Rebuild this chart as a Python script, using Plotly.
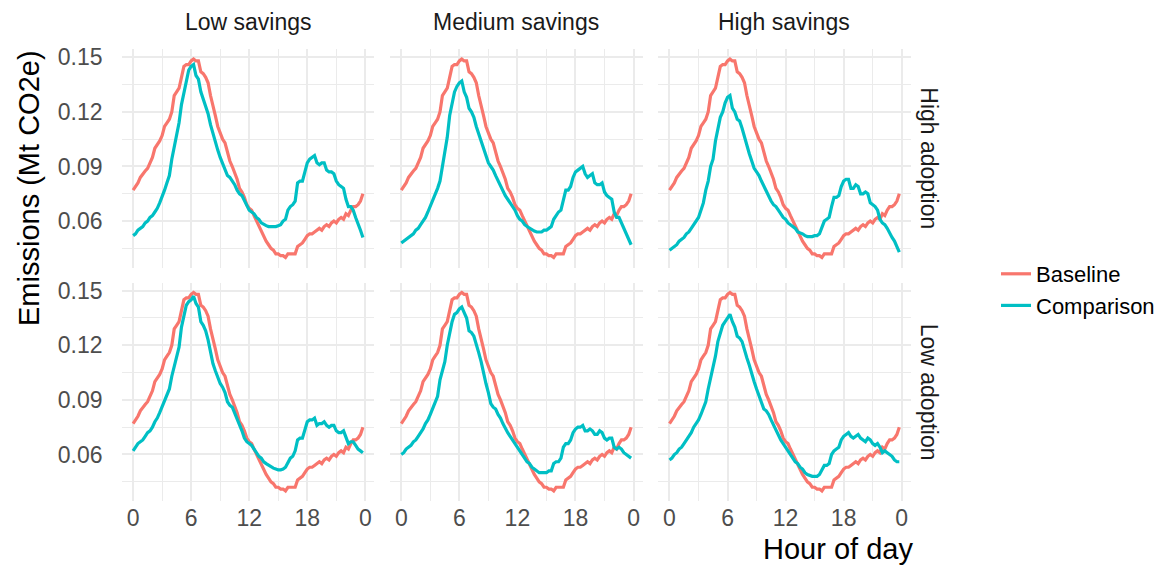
import numpy as np
import plotly.graph_objects as go

# ---------------- data (15-minute resolution, hour 0 .. 23.75) ----------------
hours = np.arange(96) * 0.25

baseline = [
    0.077, 0.079, 0.081, 0.084, 0.086, 0.0875, 0.089, 0.092, 0.095, 0.100, 0.102, 0.104,
    0.107, 0.112, 0.114, 0.116, 0.120, 0.129, 0.131, 0.133, 0.139, 0.145, 0.146, 0.146,
    0.148, 0.149, 0.148, 0.148, 0.142, 0.141, 0.139, 0.136, 0.129, 0.124, 0.118, 0.112,
    0.108, 0.105, 0.103, 0.098, 0.093, 0.090, 0.087, 0.083, 0.078, 0.076, 0.073, 0.069,
    0.067, 0.066, 0.063, 0.060, 0.058, 0.055, 0.052, 0.049, 0.047, 0.045, 0.044, 0.042,
    0.042, 0.041, 0.041, 0.040, 0.042, 0.042, 0.042, 0.042, 0.046, 0.047, 0.048, 0.050,
    0.052, 0.053, 0.053, 0.054, 0.055, 0.056, 0.055, 0.057, 0.058, 0.057, 0.059, 0.060,
    0.059, 0.061, 0.062, 0.061, 0.064, 0.063, 0.066, 0.068, 0.068, 0.069, 0.071, 0.075,
]

comp_high_adoption_low_savings = [
    0.052, 0.053, 0.055, 0.056, 0.057, 0.059, 0.060, 0.062, 0.063, 0.065, 0.067, 0.070,
    0.073, 0.077, 0.081, 0.085, 0.094, 0.101, 0.106, 0.114, 0.124, 0.131, 0.138, 0.143,
    0.145, 0.146, 0.140, 0.138, 0.131, 0.127, 0.123, 0.119, 0.113, 0.108, 0.104, 0.099,
    0.095, 0.092, 0.089, 0.085, 0.084, 0.082, 0.080, 0.077, 0.075, 0.074, 0.071, 0.068,
    0.066, 0.065, 0.064, 0.062, 0.061, 0.059, 0.058, 0.0575, 0.057, 0.057, 0.057, 0.057,
    0.0575, 0.058, 0.060, 0.061, 0.066, 0.068, 0.069, 0.071, 0.081, 0.082, 0.082, 0.088,
    0.092, 0.094, 0.095, 0.096, 0.092, 0.091, 0.092, 0.092, 0.088, 0.087, 0.087, 0.086,
    0.082, 0.080, 0.079, 0.078, 0.072, 0.068, 0.068, 0.066, 0.062, 0.059, 0.055, 0.051,
]

comp_high_adoption_medium_savings = [
    0.048, 0.049, 0.050, 0.051, 0.052, 0.053, 0.055, 0.056, 0.058, 0.060, 0.062, 0.065,
    0.068, 0.071, 0.074, 0.078, 0.082, 0.090, 0.098, 0.106, 0.118, 0.125, 0.131, 0.134,
    0.136, 0.137, 0.131, 0.128, 0.122, 0.120, 0.117, 0.112, 0.108, 0.104, 0.099, 0.095,
    0.092, 0.090, 0.088, 0.085, 0.082, 0.080, 0.077, 0.074, 0.072, 0.070, 0.068, 0.066,
    0.063, 0.061, 0.060, 0.058, 0.057, 0.056, 0.055, 0.0545, 0.054, 0.054, 0.054, 0.055,
    0.055, 0.056, 0.057, 0.061, 0.063, 0.065, 0.066, 0.071, 0.077, 0.077, 0.079, 0.084,
    0.087, 0.088, 0.089, 0.090, 0.086, 0.084, 0.085, 0.086, 0.081, 0.080, 0.080, 0.081,
    0.076, 0.074, 0.073, 0.072, 0.065, 0.062, 0.062, 0.059, 0.056, 0.053, 0.050, 0.047,
]

comp_high_adoption_high_savings = [
    0.044, 0.045, 0.046, 0.047, 0.049, 0.050, 0.051, 0.053, 0.054, 0.056, 0.058, 0.060,
    0.062, 0.066, 0.070, 0.077, 0.082, 0.090, 0.094, 0.104, 0.111, 0.117, 0.120, 0.125,
    0.128, 0.129, 0.122, 0.120, 0.116, 0.115, 0.111, 0.106, 0.101, 0.097, 0.093, 0.089,
    0.087, 0.085, 0.082, 0.079, 0.076, 0.073, 0.071, 0.069, 0.068, 0.066, 0.064, 0.062,
    0.061, 0.059, 0.058, 0.057, 0.056, 0.054, 0.0535, 0.053, 0.052, 0.0515, 0.0515, 0.0515,
    0.052, 0.052, 0.053, 0.056, 0.060, 0.061, 0.062, 0.068, 0.073, 0.073, 0.074, 0.079,
    0.082, 0.083, 0.083, 0.078, 0.078, 0.080, 0.079, 0.075, 0.075, 0.076, 0.075, 0.070,
    0.069, 0.068, 0.066, 0.061, 0.059, 0.058, 0.056, 0.053, 0.051, 0.049, 0.046, 0.043,
]

comp_low_adoption_low_savings = [
    0.062, 0.064, 0.066, 0.067, 0.068, 0.070, 0.072, 0.073, 0.075, 0.078, 0.080, 0.083,
    0.086, 0.089, 0.092, 0.096, 0.103, 0.109, 0.114, 0.119, 0.130, 0.137, 0.142, 0.144,
    0.145, 0.147, 0.143, 0.141, 0.133, 0.131, 0.128, 0.123, 0.116, 0.110, 0.106, 0.102,
    0.099, 0.097, 0.094, 0.089, 0.087, 0.086, 0.083, 0.079, 0.076, 0.073, 0.069, 0.067,
    0.066, 0.065, 0.063, 0.061, 0.059, 0.058, 0.056, 0.055, 0.054, 0.053, 0.0525, 0.052,
    0.0515, 0.0515, 0.052, 0.053, 0.056, 0.058, 0.059, 0.062, 0.068, 0.069, 0.069, 0.074,
    0.078, 0.079, 0.079, 0.080, 0.076, 0.077, 0.077, 0.078, 0.076, 0.075, 0.076, 0.076,
    0.073, 0.072, 0.072, 0.073, 0.069, 0.066, 0.067, 0.067, 0.065, 0.063, 0.062, 0.061,
]

comp_low_adoption_medium_savings = [
    0.060, 0.061, 0.063, 0.064, 0.065, 0.067, 0.068, 0.070, 0.072, 0.074, 0.077, 0.079,
    0.082, 0.085, 0.088, 0.092, 0.101, 0.106, 0.111, 0.120, 0.127, 0.133, 0.137, 0.138,
    0.140, 0.141, 0.138, 0.135, 0.128, 0.127, 0.125, 0.121, 0.116, 0.111, 0.104, 0.099,
    0.094, 0.088, 0.086, 0.085, 0.082, 0.080, 0.077, 0.074, 0.072, 0.070, 0.068, 0.066,
    0.064, 0.062, 0.060, 0.058, 0.056, 0.055, 0.053, 0.052, 0.051, 0.050, 0.050, 0.050,
    0.050, 0.051, 0.051, 0.055, 0.056, 0.056, 0.058, 0.064, 0.066, 0.066, 0.068, 0.072,
    0.074, 0.075, 0.075, 0.076, 0.073, 0.073, 0.074, 0.073, 0.071, 0.071, 0.073, 0.072,
    0.069, 0.068, 0.069, 0.069, 0.064, 0.063, 0.064, 0.063, 0.061, 0.060, 0.059, 0.058,
]

comp_low_adoption_high_savings = [
    0.057, 0.058, 0.060, 0.061, 0.063, 0.064, 0.066, 0.068, 0.070, 0.072, 0.075, 0.077,
    0.079, 0.082, 0.085, 0.089, 0.096, 0.102, 0.107, 0.114, 0.122, 0.127, 0.131, 0.133,
    0.135, 0.137, 0.133, 0.130, 0.125, 0.124, 0.122, 0.117, 0.113, 0.109, 0.104, 0.100,
    0.096, 0.092, 0.088, 0.085, 0.084, 0.082, 0.079, 0.076, 0.073, 0.071, 0.068, 0.066,
    0.064, 0.062, 0.060, 0.058, 0.056, 0.055, 0.053, 0.052, 0.050, 0.049, 0.0485, 0.048,
    0.048, 0.048, 0.049, 0.052, 0.054, 0.054, 0.055, 0.060, 0.062, 0.063, 0.064, 0.068,
    0.070, 0.071, 0.072, 0.070, 0.069, 0.070, 0.071, 0.069, 0.068, 0.067, 0.069, 0.068,
    0.066, 0.065, 0.066, 0.064, 0.061, 0.062, 0.061, 0.060, 0.059, 0.057, 0.056, 0.056,
]

col_labels = ["Low savings", "Medium savings", "High savings"]
row_labels = ["High adoption", "Low adoption"]
series_names = ["Baseline", "Comparison"]
comparison = {
    ("High adoption", "Low savings"): comp_high_adoption_low_savings,
    ("High adoption", "Medium savings"): comp_high_adoption_medium_savings,
    ("High adoption", "High savings"): comp_high_adoption_high_savings,
    ("Low adoption", "Low savings"): comp_low_adoption_low_savings,
    ("Low adoption", "Medium savings"): comp_low_adoption_medium_savings,
    ("Low adoption", "High savings"): comp_low_adoption_high_savings,
}
x_tickvals = [0, 6, 12, 18, 24]
x_ticktext = ["0", "6", "12", "18", "0"]
y_tickvals = [0.06, 0.09, 0.12, 0.15]
y_ticktext = ["0.06", "0.09", "0.12", "0.15"]

# ---------------- layout geometry ----------------
W, H = 1174, 566
FONT = "Liberation Sans, Arial, Helvetica, sans-serif"
colors = {"Baseline": "#F8766D", "Comparison": "#00BFC4"}
grid = "#EBEBEB"

col_px = [(113.6, 366.4), (381.8, 634.6), (650.0, 902.8)]
row_px = [(41.1, 259.5), (274.5, 492.9)]
x_range = [-1.1875, 24.9375]
y_range = [0.0345, 0.1545]

fig = go.Figure()
layout = dict()
k = 0
for r, rlab in enumerate(row_labels):
    for c, clab in enumerate(col_labels):
        k += 1
        xa = "x" if k == 1 else f"x{k}"
        ya = "y" if k == 1 else f"y{k}"
        series = {"Baseline": baseline, "Comparison": comparison[(rlab, clab)]}
        for name in series_names:
            fig.add_trace(go.Scatter(
                x=hours, y=series[name], mode="lines", name=name,
                line=dict(color=colors[name], width=3.2),
                xaxis=xa, yaxis=ya, legendgroup=name,
                showlegend=(k == 1),
            ))
        x0, x1 = col_px[c]
        y0, y1 = row_px[r]
        layout[f"xaxis{'' if k == 1 else k}"] = dict(
            domain=[x0 / W, x1 / W], range=x_range, anchor=ya,
            tickvals=x_tickvals, ticktext=x_ticktext,
            showticklabels=(r == 1), ticks="",
            showgrid=True, gridcolor=grid, gridwidth=2,
            minor=dict(tickvals=[3, 9, 15, 21], showgrid=True, gridcolor=grid, gridwidth=1.1),
            zeroline=False, showline=False, automargin=False,
            tickfont=dict(family=FONT, size=23, color="#4D4D4D"),
            ticklabelstandoff=1,
        )
        layout[f"yaxis{'' if k == 1 else k}"] = dict(
            domain=[1 - y1 / H, 1 - y0 / H], range=y_range, anchor=xa,
            tickvals=y_tickvals, ticktext=y_ticktext,
            showticklabels=(c == 0), ticks="",
            showgrid=True, gridcolor=grid, gridwidth=2,
            minor=dict(tickvals=[0.045, 0.075, 0.105, 0.135], showgrid=True, gridcolor=grid, gridwidth=1.1),
            zeroline=False, showline=False, automargin=False,
            tickfont=dict(family=FONT, size=23, color="#4D4D4D"),
            ticklabelstandoff=18,
        )

annotations = []
for c, clab in enumerate(col_labels):
    x0, x1 = col_px[c]
    annotations.append(dict(text=clab, x=(x0 + x1) / 2 / W, y=1 - 14 / H, xref="paper", yref="paper",
                            showarrow=False, xanchor="center", yanchor="middle",
                            font=dict(family=FONT, size=23, color="#1A1A1A")))
for r, rlab in enumerate(row_labels):
    y0, y1 = row_px[r]
    annotations.append(dict(text=rlab, x=921 / W, y=1 - (y0 + y1) / 2 / H, xref="paper", yref="paper",
                            showarrow=False, xanchor="center", yanchor="middle", textangle=90,
                            font=dict(family=FONT, size=23, color="#1A1A1A")))
annotations.append(dict(text="Hour of day", x=907 / W, y=1 - 541 / H, xref="paper", yref="paper",
                        showarrow=False, xanchor="right", yanchor="middle",
                        font=dict(family=FONT, size=29, color="black")))
annotations.append(dict(text="Emissions (Mt CO2e)", x=21 / W, y=1 - 40 / H, xref="paper", yref="paper",
                        showarrow=False, xanchor="center", yanchor="top", textangle=-90,
                        font=dict(family=FONT, size=29, color="black")))

fig.update_layout(
    width=W, height=H,
    margin=dict(l=0, r=0, t=0, b=0),
    paper_bgcolor="white", plot_bgcolor="white",
    showlegend=True,
    legend=dict(x=988 / W, y=1 - 245 / H, xanchor="left", yanchor="top",
                font=dict(family=FONT, size=22, color="black"),
                itemwidth=30, tracegroupgap=0, bgcolor="rgba(0,0,0,0)"),
    annotations=annotations,
    **layout,
)

fig.write_html("out.html")
